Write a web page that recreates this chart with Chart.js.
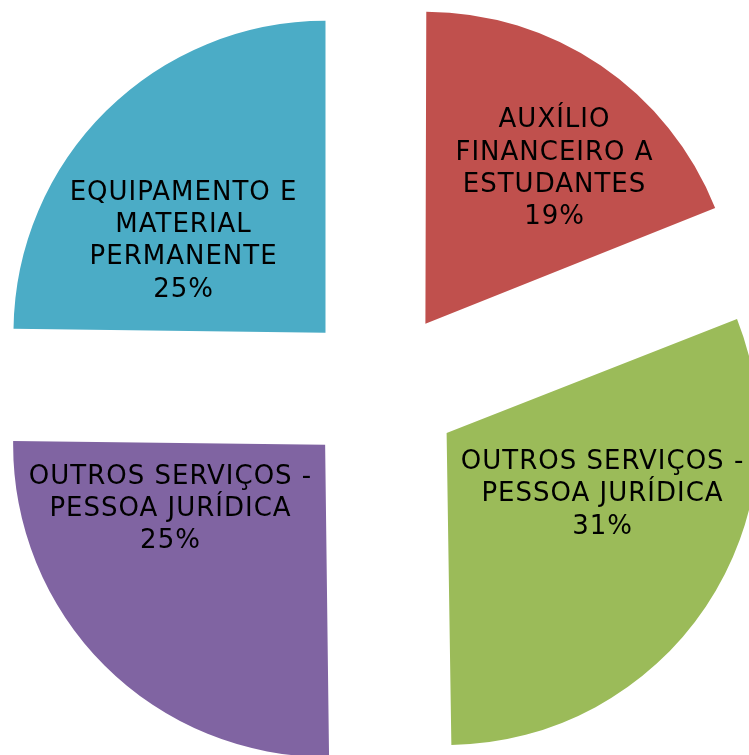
<!DOCTYPE html>
<html>
<head>
<meta charset="utf-8">
<script src="https://cdn.jsdelivr.net/npm/chart.js@4.4.1/dist/chart.umd.min.js"></script>
<style>
    html, body { margin: 0; padding: 0; background: #fff; }
    #wrap { width: 749px; height: 755px; position: relative; }
</style>
</head>
<body>
<div id="wrap"><canvas id="pie"></canvas></div>
<script>
// categories (already split into lines as in the original labels)
const categories = [
    ["AUXÍLIO", "FINANCEIRO A", "ESTUDANTES"],
    ["OUTROS SERVIÇOS -", "PESSOA JURÍDICA"],
    ["OUTROS SERVIÇOS -", "PESSOA JURÍDICA"],
    ["EQUIPAMENTO E", "MATERIAL", "PERMANENTE"]
];
const values = [19.0, 30.8, 25.4, 24.8];
const sliceColors = ["#C0504D", "#9BBB59", "#8064A2", "#4BACC6"];

// where each label sits inside its slice: t = fraction of the slice angle, f = fraction of radius
const labelSpots = [
    {t: 0.575, f: 0.653},
    {t: 0.381, f: 0.534},
    {t: 0.756, f: 0.533},
    {t: 0.368, f: 0.546}
];

// chart.js grows narrow exploded slices a bit; keep all slices the same radius like excel does
const sameRadius = {
    id: 'sameRadius',
    beforeDatasetsDraw(chart) {
        const meta = chart.getDatasetMeta(0);
        for (const arc of meta.data) {
            if (arc._baseR === undefined) arc._baseR = arc.outerRadius;
            const off = (arc.options.offset || 0) / 4;
            const fix = 1 - Math.sin(Math.min(Math.PI, arc.circumference || 0));
            arc.outerRadius = arc._baseR - off * fix;
        }
    }
};

const sliceLabels = {
    id: 'sliceLabels',
    afterDatasetsDraw(chart) {
        const ctx = chart.ctx;
        const meta = chart.getDatasetMeta(0);
        const total = values.reduce((a, b) => a + b, 0);
        ctx.save();
        ctx.font = '26px "DejaVu Sans", Verdana, sans-serif';
        if ('letterSpacing' in ctx) ctx.letterSpacing = '1px';
        ctx.fillStyle = '#000';
        ctx.textAlign = 'center';
        ctx.textBaseline = 'middle';
        meta.data.forEach((arc, i) => {
            const p = arc.getProps(['x', 'y', 'startAngle', 'endAngle'], true);
            const R = arc._baseR || arc.outerRadius;
            const mid = (p.startAngle + p.endAngle) / 2;
            const shift = (arc.options.offset || 0) / 4;
            const vx = p.x + Math.cos(mid) * shift;
            const vy = p.y + Math.sin(mid) * shift;
            const spot = labelSpots[i];
            const a = p.startAngle + spot.t * (p.endAngle - p.startAngle);
            const cx = vx + Math.cos(a) * R * spot.f;
            const cy = vy + Math.sin(a) * R * spot.f + 3;
            const lines = categories[i].concat([Math.round(values[i] / total * 100) + '%']);
            const lh = 32.3;
            const top = cy - (lines.length - 1) * lh / 2;
            lines.forEach((ln, k) => ctx.fillText(ln, cx, top + k * lh));
        });
        ctx.restore();
    }
};

new Chart(document.getElementById('pie'), {
    type: 'pie',
    data: {
        labels: categories,
        datasets: [{
            data: values,
            backgroundColor: sliceColors,
            borderWidth: 0,
            offset: 316,
            hoverOffset: 0,
            clip: false
        }]
    },
    options: {
        responsive: true,
        maintainAspectRatio: false,
        animation: false,
        events: [],
        radius: 312,
        layout: { padding: { left: 13, top: 23, right: 0, bottom: 0 } },
        plugins: {
            legend: { display: false },
            tooltip: { enabled: false }
        }
    },
    plugins: [sameRadius, sliceLabels]
});
</script>
</body>
</html>
